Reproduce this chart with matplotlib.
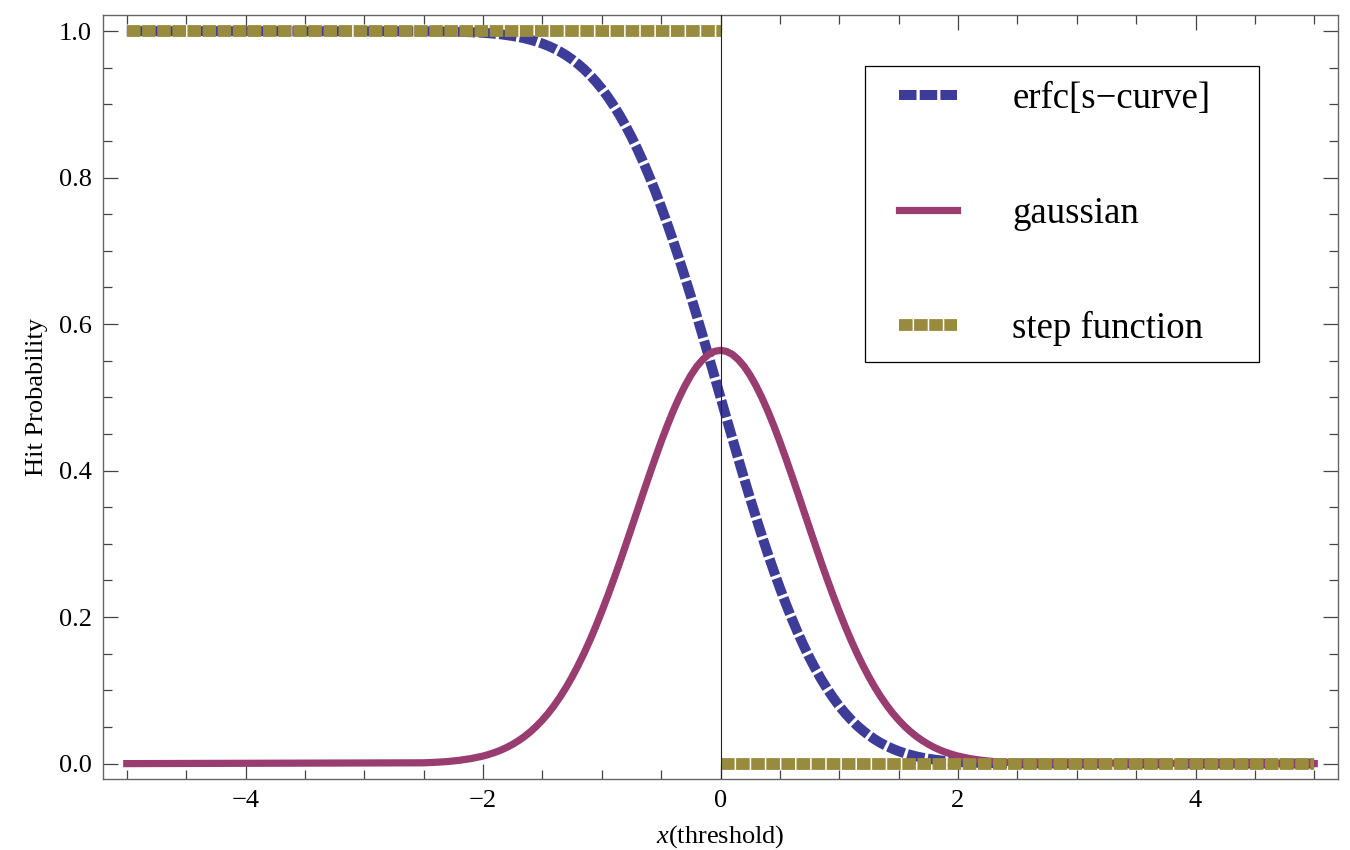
import matplotlib.pyplot as plt
import numpy as np
from matplotlib.patches import Rectangle

plt.rcParams['font.family'] = ['Liberation Serif', 'DejaVu Serif']
plt.rcParams['mathtext.fontset'] = 'custom'
plt.rcParams['mathtext.rm'] = 'Liberation Serif'
plt.rcParams['mathtext.it'] = 'Liberation Serif:italic'

# sample positions for the smooth curves (finer in the middle)
x_curve = np.concatenate([[-5.0],
                          np.round(np.arange(-25, -20) / 10, 2),
                          np.round(np.arange(-40, 41) / 20, 2),
                          np.round(np.arange(21, 26) / 10, 2),
                          [5.0]])

# erfc[s-curve]
erfc_vals = [1.0,
             0.9998, 0.9997, 0.9994, 0.9990, 0.9985,
             0.9977, 0.9971, 0.9964, 0.9956, 0.9945, 0.9933, 0.9919, 0.9902, 0.9881, 0.9858,
             0.9830, 0.9798, 0.9761, 0.9719, 0.9670, 0.9614, 0.9551, 0.9481, 0.9401, 0.9312,
             0.9214, 0.9104, 0.8984, 0.8853, 0.8710, 0.8556, 0.8389, 0.8210, 0.8019, 0.7817,
             0.7602, 0.7377, 0.7142, 0.6897, 0.6643, 0.6382, 0.6114, 0.5840, 0.5562, 0.5282,
             0.5000, 0.4718, 0.4438, 0.4160, 0.3886, 0.3618, 0.3357, 0.3103, 0.2858, 0.2623,
             0.2398, 0.2183, 0.1981, 0.1790, 0.1611, 0.1444, 0.1290, 0.1147, 0.1016, 0.0896,
             0.0786, 0.0688, 0.0599, 0.0519, 0.0449, 0.0386, 0.0330, 0.0281, 0.0239, 0.0202,
             0.0170, 0.0142, 0.0119, 0.0098, 0.0081, 0.0067, 0.0055, 0.0044, 0.0036, 0.0029,
             0.0023,
             0.0015, 0.0010, 0.0006, 0.0003, 0.0002,
             0.0]

# gaussian
gauss_vals = [0.0,
              0.0011, 0.0018, 0.0028, 0.0045, 0.0069,
              0.0103, 0.0126, 0.0153, 0.0184, 0.0221, 0.0264, 0.0314, 0.0371, 0.0436, 0.0511,
              0.0595, 0.0689, 0.0795, 0.0912, 0.1041, 0.1183, 0.1337, 0.1503, 0.1682, 0.1873,
              0.2076, 0.2288, 0.2510, 0.2739, 0.2975, 0.3215, 0.3456, 0.3698, 0.3936, 0.4169,
              0.4394, 0.4608, 0.4808, 0.4991, 0.5156, 0.5300, 0.5421, 0.5516, 0.5586, 0.5628,
              0.5642, 0.5628, 0.5586, 0.5516, 0.5421, 0.5300, 0.5156, 0.4991, 0.4808, 0.4608,
              0.4394, 0.4169, 0.3936, 0.3698, 0.3456, 0.3215, 0.2975, 0.2739, 0.2510, 0.2288,
              0.2076, 0.1873, 0.1682, 0.1503, 0.1337, 0.1183, 0.1041, 0.0912, 0.0795, 0.0689,
              0.0595, 0.0511, 0.0436, 0.0371, 0.0314, 0.0264, 0.0221, 0.0184, 0.0153, 0.0126,
              0.0103,
              0.0069, 0.0045, 0.0028, 0.0018, 0.0011,
              0.0]

# step function, two flat pieces
step_left_x = [-5.0, 0.0]
step_left_y = [1.0, 1.0]
step_right_x = [0.0, 5.0]
step_right_y = [0.0, 0.0]

labels = ['erfc[s\u2212curve]', 'gaussian', 'step function']
colors = ['#3D3D99', '#993D71', '#998B3D']

fig = plt.figure(figsize=(13.5, 8.5), dpi=100)
ax = fig.add_axes([103 / 1350, 1 - 779 / 850, 1235 / 1350, 764 / 850])

l1, = ax.plot(x_curve, erfc_vals, color=colors[0], lw=7.2, dashes=(1.75, 0.32),
              solid_capstyle='butt', dash_capstyle='butt', zorder=2)
l2, = ax.plot(x_curve, gauss_vals, color=colors[1], lw=5.2, zorder=3)
l3, = ax.plot(step_left_x, step_left_y, color=colors[2], lw=8.5, dashes=(1.15, 0.13),
              dash_capstyle='butt', zorder=4)
ax.plot(step_right_x, step_right_y, color=colors[2], lw=8.5, dashes=(1.15, 0.13),
        dash_capstyle='butt', zorder=4)

ax.axvline(0, color='#222222', lw=0.8, zorder=5)

ax.set_xlim(-5.2, 5.2)
ax.set_ylim(-0.021, 1.022)
ax.set_xticks([-4, -2, 0, 2, 4])
ax.set_xticks(np.arange(-5, 5.01, 0.5), minor=True)
ax.set_yticks([0.0, 0.2, 0.4, 0.6, 0.8, 1.0])
ax.set_yticks(np.arange(0, 1.001, 0.05), minor=True)
ax.set_yticklabels(['0.0', '0.2', '0.4', '0.6', '0.8', '1.0'])

for s in ax.spines.values():
    s.set_color('#666666')
    s.set_linewidth(1.0)
ax.tick_params(which='both', direction='in', top=True, right=True, color='#444444',
               labelsize=19, width=0.9)
ax.tick_params(which='major', length=11, pad=8)
ax.tick_params(which='minor', length=6.5)

ax.set_xlabel(r'$x$(threshold)', fontsize=19, labelpad=8)
ax.set_ylabel('Hit Probability', fontsize=19, labelpad=8)

# legend entries without their own frame, box drawn separately
leg = ax.legend([l1, l2, l3], labels, loc='upper left', bbox_to_anchor=(0.6445, 0.9125),
                borderaxespad=0, borderpad=0, fontsize=26.5, frameon=False,
                handlelength=1.58, handletextpad=1.5, labelspacing=2.17)
ax.add_patch(Rectangle((0.617, 0.5458), 0.319, 0.3875, transform=ax.transAxes,
                       fill=False, edgecolor='black', lw=0.9, zorder=6))

fig.savefig('out.png', dpi=100)
